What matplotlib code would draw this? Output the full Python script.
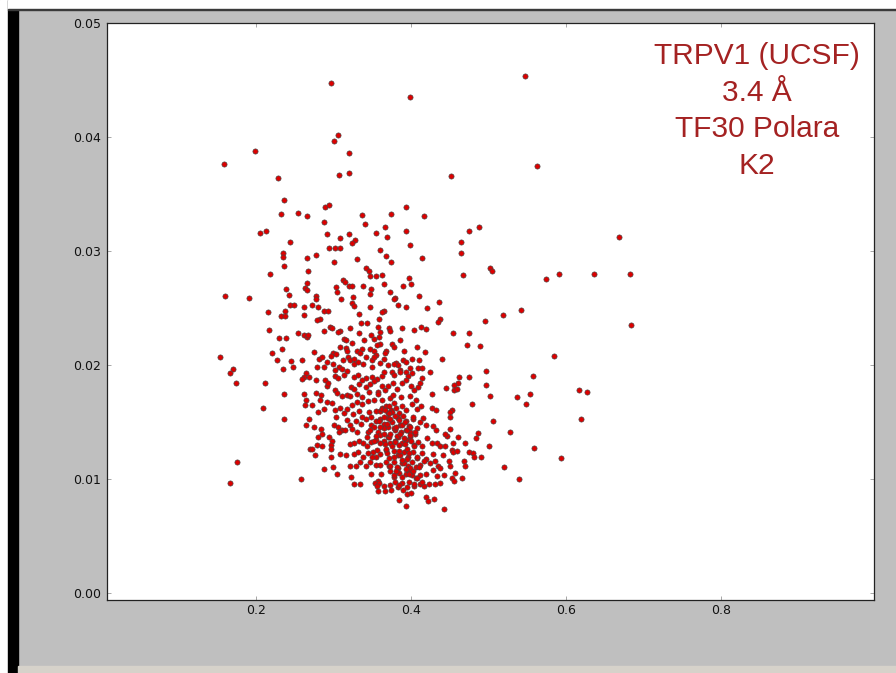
import matplotlib.pyplot as plt
from matplotlib.patches import Rectangle

# sparse points (outer region)
x_outer = [0.199, 0.159, 0.2275, 0.2365, 0.2319, 0.2546, 0.2662, 0.2043, 0.2120, 0.2435,
           0.2349, 0.2349, 0.2662, 0.2362, 0.2671, 0.2172, 0.2655, 0.2391, 0.2629, 0.2662,
           0.2417, 0.1596, 0.1906, 0.2972, 0.3988, 0.3059, 0.3007, 0.3197, 0.3068, 0.3192,
           0.4518, 0.2887, 0.2934, 0.2874, 0.3360, 0.3739, 0.3928, 0.4165, 0.3411, 0.2908,
           0.3085, 0.3192, 0.3549, 0.3657, 0.3695, 0.3937, 0.3274, 0.3231, 0.2934, 0.3016,
           0.3081, 0.3985, 0.4643, 0.3601, 0.2775, 0.3304, 0.3675, 0.2998, 0.3743, 0.4143,
           0.4647, 0.3416, 0.3455, 0.3463, 0.3549, 0.3627, 0.3979, 0.3119, 0.3140, 0.3192,
           0.3231, 0.3029, 0.3373, 0.3653, 0.3889, 0.3992, 0.3042, 0.3476, 0.3463, 0.3730,
           0.3256, 0.2775, 0.2775, 0.3094, 0.3795, 0.3773, 0.4096, 0.5464, 0.5628, 0.4750,
           0.4876, 0.6678, 0.5021, 0.5038, 0.4669, 0.5741, 0.5912, 0.6360, 0.6820, 0.5413,
           0.5185, 0.4957, 0.6838, 0.4540, 0.4741, 0.4724, 0.4888, 0.5844, 0.4966, 0.4741,
           0.4612, 0.5577, 0.4599, 0.4548, 0.4961, 0.4553, 0.4591, 0.5012, 0.5361, 0.5529,
           0.5482, 0.6171, 0.6270, 0.4783, 0.4527, 0.4505, 0.4505, 0.5051, 0.6193, 0.4505,
           0.5276, 0.4857, 0.4608, 0.4832, 0.4544, 0.4690, 0.5009, 0.5581, 0.4527, 0.4540,
           0.4586, 0.4747, 0.4793, 0.4811, 0.4901, 0.5938, 0.4682, 0.4505, 0.4695, 0.5193,
           0.4570, 0.4660, 0.4527, 0.4548, 0.5387, 0.2146, 0.2435, 0.2487, 0.2620, 0.2378,
           0.2314, 0.2378, 0.2620, 0.2168, 0.2293, 0.2387, 0.2546, 0.2611, 0.2655, 0.2675,
           0.2336, 0.2198, 0.1535, 0.2267, 0.2443, 0.2590, 0.2340, 0.2469, 0.1699, 0.1660,
           0.2637, 0.2611, 0.2594, 0.2680, 0.1733, 0.2112, 0.2358, 0.2616, 0.2646, 0.2629,
           0.2090, 0.2358, 0.2680, 0.2649, 0.2697, 0.1751, 0.1668, 0.2577]
y_outer = [0.0388, 0.0377, 0.0364, 0.0345, 0.0333, 0.0334, 0.0331, 0.0316, 0.0318, 0.0308,
           0.0299, 0.0295, 0.0294, 0.0287, 0.0283, 0.0280, 0.0272, 0.0267, 0.0268, 0.0266,
           0.0262, 0.0261, 0.0259, 0.0448, 0.0435, 0.0402, 0.0397, 0.0386, 0.0367, 0.0369,
           0.0366, 0.0339, 0.0341, 0.0326, 0.0332, 0.0333, 0.0339, 0.0331, 0.0324, 0.0315,
           0.0312, 0.0315, 0.0316, 0.0321, 0.0313, 0.0318, 0.0310, 0.0307, 0.0303, 0.0303,
           0.0303, 0.0306, 0.0308, 0.0301, 0.0297, 0.0293, 0.0296, 0.0291, 0.0291, 0.0294,
           0.0299, 0.0285, 0.0283, 0.0278, 0.0278, 0.0279, 0.0277, 0.0275, 0.0273, 0.0270,
           0.0270, 0.0269, 0.0270, 0.0271, 0.0270, 0.0271, 0.0264, 0.0267, 0.0263, 0.0264,
           0.0260, 0.0261, 0.0258, 0.0258, 0.0259, 0.0258, 0.0261, 0.0454, 0.0375, 0.0318,
           0.0321, 0.0313, 0.0285, 0.0283, 0.0279, 0.0276, 0.0280, 0.0280, 0.0280, 0.0249,
           0.0244, 0.0239, 0.0235, 0.0228, 0.0228, 0.0218, 0.0217, 0.0208, 0.0195, 0.0190,
           0.0190, 0.0191, 0.0185, 0.0183, 0.0183, 0.0178, 0.0179, 0.0173, 0.0172, 0.0175,
           0.0166, 0.0178, 0.0177, 0.0166, 0.0161, 0.0159, 0.0155, 0.0151, 0.0153, 0.0144,
           0.0142, 0.0141, 0.0137, 0.0136, 0.0132, 0.0132, 0.0129, 0.0128, 0.0126, 0.0124,
           0.0125, 0.0124, 0.0123, 0.0120, 0.0120, 0.0119, 0.0116, 0.0112, 0.0112, 0.0111,
           0.0106, 0.0101, 0.0101, 0.0099, 0.0100, 0.0247, 0.0253, 0.0253, 0.0251, 0.0248,
           0.0243, 0.0243, 0.0244, 0.0231, 0.0224, 0.0224, 0.0228, 0.0227, 0.0225, 0.0227,
           0.0214, 0.0211, 0.0207, 0.0205, 0.0204, 0.0205, 0.0197, 0.0199, 0.0197, 0.0193,
           0.0193, 0.0190, 0.0188, 0.0190, 0.0185, 0.0185, 0.0175, 0.0175, 0.0170, 0.0165,
           0.0163, 0.0153, 0.0153, 0.0148, 0.0127, 0.0115, 0.0097, 0.0100]

# dense core
x_core = [0.2723, 0.2792, 0.2869, 0.2921, 0.2818, 0.2783, 0.3239, 0.3257, 0.3463, 0.3325,
          0.3653, 0.3627, 0.3833, 0.3928, 0.4204, 0.4358, 0.4376, 0.4350, 0.3584, 0.3429,
          0.3351, 0.3567, 0.3713, 0.3730, 0.3876, 0.4031, 0.4126, 0.4186, 0.2947, 0.2981,
          0.2878, 0.3076, 0.3059, 0.3205, 0.3325, 0.3480, 0.3592, 0.3584,
          0.3128, 0.3162, 0.3231, 0.3394, 0.3523, 0.3601, 0.3558, 0.3859, 0.3747, 0.3782,
          0.3911, 0.4074, 0.4178, 0.3084, 0.3153, 0.3170, 0.3300, 0.3360, 0.3343, 0.3463,
          0.3523, 0.3549, 0.3678, 0.3661, 0.2749, 0.2809, 0.2990, 0.3024, 0.2964, 0.2852,
          0.2912, 0.3179, 0.3119, 0.3214, 0.3265, 0.3412, 0.3490, 0.3523, 0.3653, 0.3808,
          0.3825, 0.3894, 0.3937, 0.4006, 0.4100, 0.4401, 0.2869, 0.2783, 0.2990, 0.3067,
          0.3016, 0.3102, 0.3170, 0.3257, 0.3308, 0.3377, 0.3498, 0.3601, 0.3704, 0.3773,
          0.3859, 0.3980, 0.4092, 0.4135,
          0.2775, 0.2886, 0.2912, 0.2929, 0.3016, 0.3050, 0.3128, 0.3257, 0.3317, 0.3412,
          0.3490, 0.3558, 0.3618, 0.3653, 0.3747, 0.3782, 0.3859, 0.3928, 0.3963, 0.4014,
          0.4143, 0.4238, 0.2766, 0.2835, 0.3016, 0.3041, 0.3110, 0.3170, 0.3222, 0.3257,
          0.3325, 0.3360, 0.3412, 0.3463, 0.3523, 0.3575, 0.3627, 0.3661, 0.3704, 0.3765,
          0.3816, 0.3876, 0.3928, 0.3997, 0.4040, 0.4083, 0.4109, 0.4264, 0.4453, 0.3205,
          0.3300, 0.3360, 0.3455, 0.3575, 0.3730, 0.3765, 0.3868, 0.3988, 0.4057,
          0.2723, 0.2818, 0.2912, 0.2981, 0.2869, 0.2792, 0.3016, 0.3084, 0.3033, 0.3128,
          0.3170, 0.3239, 0.3300, 0.3369, 0.3446, 0.3515, 0.3618, 0.3248, 0.3325, 0.3369,
          0.3455, 0.3480, 0.3541, 0.3618, 0.3601, 0.3670, 0.3696, 0.3739, 0.3782, 0.3799,
          0.3842, 0.3885, 0.3937, 0.4006, 0.4074, 0.4126, 0.4152, 0.4264, 0.4324, 0.2749,
          0.2835, 0.2998, 0.3050, 0.3102, 0.3170, 0.3214, 0.3282, 0.3351, 0.3420, 0.3480,
          0.3549, 0.3601, 0.3653, 0.3704, 0.3756, 0.3825, 0.3859, 0.3928, 0.3971, 0.4023,
          0.4074, 0.4117, 0.4186, 0.4281, 0.4324, 0.4462, 0.4436, 0.3145, 0.3067, 0.3239,
          0.3300, 0.3446, 0.3515, 0.3575, 0.3644, 0.3704, 0.3790, 0.3868, 0.3937, 0.3988,
          0.4049,
          0.2792, 0.2843, 0.2938, 0.2981, 0.2964, 0.2964, 0.2783, 0.2714, 0.2757, 0.2843,
          0.3214, 0.3265, 0.3325, 0.3377, 0.3429, 0.3480, 0.3549, 0.3592, 0.3644, 0.3696,
          0.3730, 0.3790, 0.3825, 0.3876, 0.3937, 0.3988, 0.4031, 0.4083, 0.4143, 0.4204,
          0.4272, 0.4333, 0.4376, 0.4436, 0.3084, 0.3162, 0.3257, 0.3317, 0.3377, 0.3446,
          0.3506, 0.3541, 0.3601, 0.3670, 0.3713, 0.3773, 0.3833, 0.3902, 0.3963, 0.4023,
          0.4074, 0.4135, 0.4195, 0.4281, 0.4307, 0.4410, 0.4488, 0.2964, 0.2869, 0.2990,
          0.3041, 0.3214, 0.3282, 0.3343, 0.3412, 0.3472, 0.3541, 0.3592, 0.3678, 0.3713,
          0.3782, 0.3833, 0.3885, 0.3963, 0.4014, 0.4066, 0.4117, 0.4169, 0.4247, 0.4341,
          0.4376,
          0.3222, 0.3480, 0.3567, 0.3610, 0.3721, 0.3782, 0.3842, 0.3928, 0.3971, 0.4014,
          0.4066, 0.4117, 0.4195, 0.4281, 0.4333, 0.4427, 0.3265, 0.3343, 0.3532, 0.3584,
          0.3644, 0.3730, 0.3790, 0.3885, 0.3971, 0.4040, 0.4109, 0.4169, 0.4229, 0.4307,
          0.4367, 0.3558, 0.3567, 0.3661, 0.3739, 0.3833, 0.3894, 0.3945, 0.3997, 0.4195,
          0.4212, 0.4290, 0.3842, 0.3937, 0.4427]
y_core = [0.0253, 0.0251, 0.0248, 0.0248, 0.0241, 0.0240, 0.0255, 0.0252, 0.0251, 0.0245,
          0.0248, 0.0247, 0.0253, 0.0251, 0.0250, 0.0256, 0.0241, 0.0238, 0.0241, 0.0237,
          0.0237, 0.0234, 0.0233, 0.0230, 0.0233, 0.0231, 0.0234, 0.0232, 0.0234, 0.0233,
          0.0230, 0.0230, 0.0229, 0.0233, 0.0228, 0.0227, 0.0229, 0.0225,
          0.0223, 0.0222, 0.0220, 0.0222, 0.0223, 0.0219, 0.0218, 0.0222, 0.0219, 0.0216,
          0.0213, 0.0216, 0.0212, 0.0216, 0.0215, 0.0213, 0.0213, 0.0214, 0.0211, 0.0214,
          0.0213, 0.0209, 0.0213, 0.0211, 0.0212, 0.0206, 0.0211, 0.0210, 0.0208, 0.0207,
          0.0203, 0.0207, 0.0205, 0.0205, 0.0206, 0.0207, 0.0205, 0.0207, 0.0206, 0.0202,
          0.0200, 0.0205, 0.0203, 0.0206, 0.0205, 0.0206, 0.0199, 0.0199, 0.0201, 0.0199,
          0.0196, 0.0197, 0.0195, 0.0201, 0.0203, 0.0201, 0.0199, 0.0202, 0.0200, 0.0201,
          0.0196, 0.0198, 0.0198, 0.0198,
          0.0187, 0.0187, 0.0182, 0.0185, 0.0191, 0.0189, 0.0192, 0.0190, 0.0192, 0.0189,
          0.0190, 0.0188, 0.0191, 0.0194, 0.0194, 0.0192, 0.0194, 0.0194, 0.0191, 0.0193,
          0.0189, 0.0194, 0.0176, 0.0174, 0.0178, 0.0176, 0.0173, 0.0174, 0.0181, 0.0179,
          0.0184, 0.0187, 0.0181, 0.0184, 0.0186, 0.0177, 0.0182, 0.0178, 0.0182, 0.0185,
          0.0179, 0.0185, 0.0187, 0.0182, 0.0178, 0.0181, 0.0185, 0.0175, 0.0180, 0.0173,
          0.0175, 0.0172, 0.0177, 0.0175, 0.0171, 0.0174, 0.0172, 0.0173, 0.0170,
          0.0165, 0.0170, 0.0168, 0.0167, 0.0162, 0.0159, 0.0161, 0.0163, 0.0155, 0.0158,
          0.0162, 0.0165, 0.0168, 0.0166, 0.0169, 0.0170, 0.0170, 0.0157, 0.0160, 0.0155,
          0.0159, 0.0155, 0.0160, 0.0163, 0.0160, 0.0164, 0.0158, 0.0161, 0.0167, 0.0163,
          0.0158, 0.0164, 0.0161, 0.0166, 0.0162, 0.0164, 0.0154, 0.0163, 0.0161, 0.0146,
          0.0144, 0.0148, 0.0146, 0.0143, 0.0152, 0.0148, 0.0151, 0.0149, 0.0153, 0.0148,
          0.0151, 0.0153, 0.0149, 0.0154, 0.0150, 0.0154, 0.0148, 0.0151, 0.0147, 0.0153,
          0.0145, 0.0150, 0.0148, 0.0147, 0.0143, 0.0138, 0.0140, 0.0143, 0.0142, 0.0144,
          0.0142, 0.0142, 0.0146, 0.0142, 0.0145, 0.0146, 0.0143, 0.0142, 0.0143, 0.0142,
          0.0140,
          0.0137, 0.0140, 0.0137, 0.0134, 0.0130, 0.0127, 0.0130, 0.0127, 0.0121, 0.0129,
          0.0131, 0.0132, 0.0134, 0.0132, 0.0137, 0.0133, 0.0135, 0.0139, 0.0134, 0.0137,
          0.0132, 0.0134, 0.0137, 0.0132, 0.0135, 0.0137, 0.0130, 0.0133, 0.0129, 0.0136,
          0.0132, 0.0132, 0.0129, 0.0129, 0.0122, 0.0121, 0.0122, 0.0124, 0.0120, 0.0123,
          0.0124, 0.0120, 0.0122, 0.0126, 0.0119, 0.0125, 0.0121, 0.0124, 0.0120, 0.0124,
          0.0119, 0.0123, 0.0118, 0.0122, 0.0116, 0.0121, 0.0116, 0.0120, 0.0109, 0.0111,
          0.0105, 0.0112, 0.0112, 0.0115, 0.0112, 0.0115, 0.0113, 0.0113, 0.0115, 0.0112,
          0.0115, 0.0110, 0.0114, 0.0112, 0.0115, 0.0111, 0.0113, 0.0116, 0.0114, 0.0112,
          0.0110,
          0.0102, 0.0105, 0.0099, 0.0105, 0.0107, 0.0102, 0.0106, 0.0105, 0.0108, 0.0104,
          0.0101, 0.0104, 0.0105, 0.0108, 0.0103, 0.0104, 0.0096, 0.0096, 0.0097, 0.0097,
          0.0094, 0.0095, 0.0098, 0.0097, 0.0098, 0.0094, 0.0096, 0.0094, 0.0096, 0.0096,
          0.0097, 0.0094, 0.0090, 0.0090, 0.0091, 0.0093, 0.0091, 0.0087, 0.0088, 0.0085,
          0.0081, 0.0083, 0.0082, 0.0077, 0.0074]

# extra points in the densest spot of the cluster
x_peak = [0.3623, 0.3666, 0.3709, 0.3752, 0.3644, 0.3730, 0.3795, 0.3838, 0.3687, 0.3601,
          0.3773, 0.3881, 0.3945, 0.3644, 0.3709, 0.3816, 0.3902, 0.3988, 0.4053, 0.3666,
          0.3752, 0.3838, 0.3945, 0.4031, 0.3687, 0.3773, 0.3859, 0.3945, 0.4074, 0.3730,
          0.3816, 0.3902, 0.3988, 0.4096, 0.3773, 0.3881, 0.3967, 0.4074, 0.4139, 0.3838,
          0.3945, 0.4031, 0.3558, 0.3493, 0.3430, 0.3515, 0.3580, 0.3472,
          0.392, 0.398, 0.386, 0.379, 0.392, 0.400, 0.384, 0.397, 0.388, 0.381,
          0.373, 0.367, 0.389, 0.402, 0.371, 0.360, 0.355, 0.393, 0.380, 0.402]
y_peak = [0.0162, 0.0161, 0.0164, 0.0159, 0.0155, 0.0153, 0.0156, 0.0152, 0.0149, 0.0146,
          0.0145, 0.0148, 0.0143, 0.0140, 0.0137, 0.0138, 0.0136, 0.0139, 0.0142, 0.0131,
          0.0129, 0.0130, 0.0127, 0.0129, 0.0123, 0.0120, 0.0121, 0.0118, 0.0120, 0.0112,
          0.0111, 0.0114, 0.0110, 0.0111, 0.0104, 0.0102, 0.0105, 0.0101, 0.0098, 0.0095,
          0.0093, 0.0096, 0.0126, 0.0120, 0.0129, 0.0134, 0.0151, 0.0143,
          0.0150, 0.0146, 0.0140, 0.0133, 0.0131, 0.0134, 0.0125, 0.0123, 0.0117, 0.0146,
          0.0140, 0.0127, 0.0156, 0.0155, 0.0158, 0.0132, 0.0138, 0.0109, 0.0107, 0.0107]

x_ticks = [0.2, 0.4, 0.6, 0.8]
y_ticks = [0.00, 0.01, 0.02, 0.03, 0.04, 0.05]
label_lines = ['TRPV1 (UCSF)', '3.4 Å', 'TF30 Polara', 'K2']

fig = plt.figure(figsize=(8.96, 6.73), dpi=100, facecolor='#bfbfbf')

# window frame pieces from the screenshot
fig.add_artist(Rectangle((0, 0), 0.0089, 1, transform=fig.transFigure, color='white', zorder=0))
fig.add_artist(Rectangle((0.0089, 0), 0.0115, 1, transform=fig.transFigure, color='black', zorder=0))
fig.add_artist(Rectangle((0.0089, 0.9866), 0.9911, 0.0134, transform=fig.transFigure, color='white', zorder=0))
fig.add_artist(Rectangle((0.0089, 0.985), 0.9911, 0.0018, transform=fig.transFigure, color='#3a3a3a', zorder=0))
fig.add_artist(Rectangle((0.0204, 0), 0.9796, 0.0104, transform=fig.transFigure, color='#d6d2ca', zorder=0))

ax = fig.add_axes([0.1191, 0.108, 0.8567, 0.8574])
ax.scatter(x_outer + x_core + x_peak, y_outer + y_core + y_peak, s=14, c='#dd0000',
           edgecolors='#444444', linewidths=0.45, zorder=3)

ax.set_xlim(0.007, 0.998)
ax.set_ylim(-0.0006, 0.05)
ax.set_xticks(x_ticks)
ax.set_xticklabels(['%.1f' % t for t in x_ticks])
ax.set_yticks(y_ticks)
ax.set_yticklabels(['%.2f' % t for t in y_ticks])
ax.tick_params(direction='in', length=3, width=0.6, color='#999999',
               top=True, right=True, labelsize=9, labelcolor='#111111')
ax.tick_params(axis='x', pad=3)
ax.tick_params(axis='y', pad=4)
for s in ax.spines.values():
    s.set_linewidth(0.9)
    s.set_color('#222222')

ax.text(0.847, 0.968, '\n'.join(label_lines), transform=ax.transAxes,
        ha='center', va='top', multialignment='center', fontsize=21.5,
        family='Liberation Sans', color='#a42222', linespacing=1.4)

plt.savefig('out.png', dpi=100, facecolor=fig.get_facecolor())
